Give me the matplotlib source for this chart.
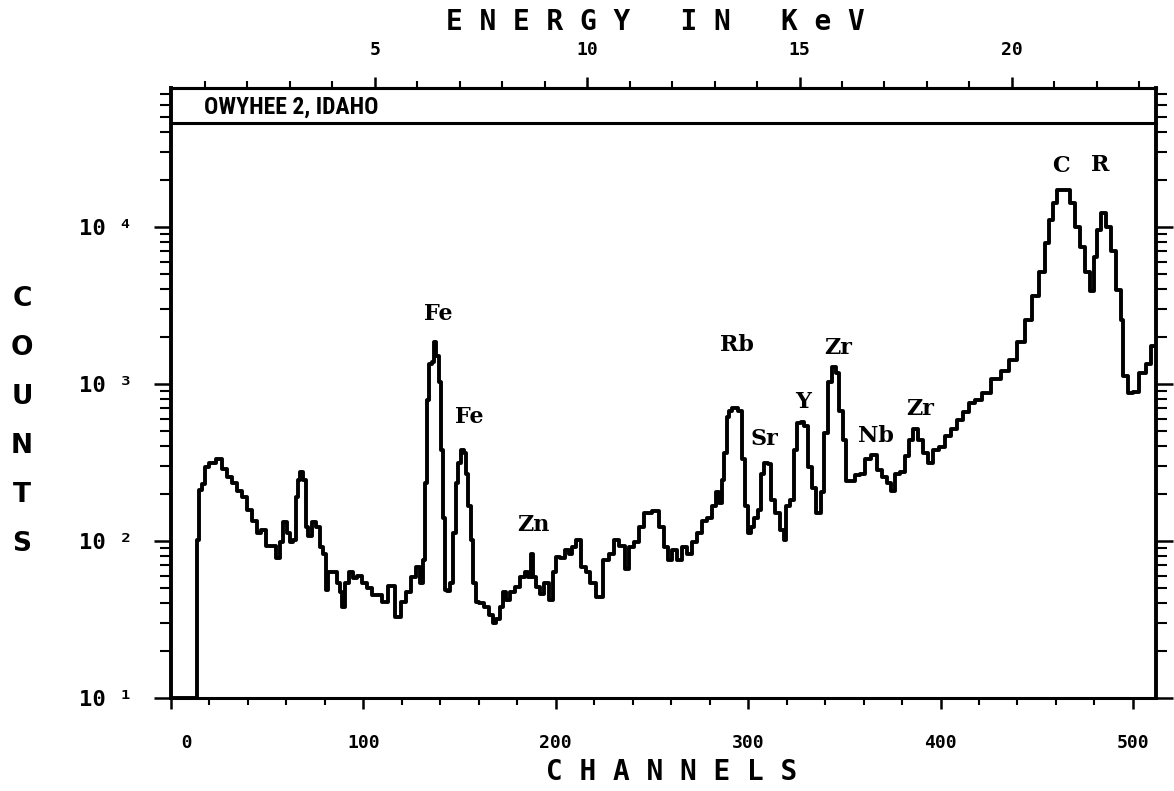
import numpy as np
import matplotlib.pyplot as plt
from matplotlib.ticker import FixedLocator, MultipleLocator, LogLocator, NullFormatter

# spectrum: channel number and counts
channel = [0.0, 13.0, 13.8, 15.0, 16.8, 18.5, 21.1, 25.4, 28.0, 30.6, 33.2, 35.8, 38.4, 41.0,
           43.6, 45.3, 47.9, 50.5, 53.1, 55.7, 57.5, 59.2, 60.9, 62.7, 64.4, 65.2, 66.6, 67.8,
           69.6, 70.5, 72.2, 73.9, 76.5, 78.3, 80.0, 80.8, 82.6, 85.2, 86.9, 88.6, 89.5, 91.2,
           93.8, 95.5, 98.1, 100.7, 103.3, 105.9, 108.5,
           111.1, 114.6, 118.0, 120.6, 123.2, 125.8, 128.4, 130.2, 131.4, 132.4, 133.6, 134.8,
           136.2, 137.4, 138.5, 139.7, 140.7, 141.7, 142.8, 144.2, 145.7, 147.5, 148.7, 150.1,
           151.8, 153.0, 154.0, 155.2, 156.6, 157.8, 159.0, 161.3, 163.9, 166.5, 168.2, 169.9,
           171.7, 173.4, 175.2, 177.7, 180.3, 182.9, 184.7, 186.4, 187.8, 189.0, 190.7, 192.5,
           195.1, 197.7, 199.4, 201.1, 203.7, 206.3,
           207.2, 209.5, 211.5, 215.0, 216.7, 219.3, 222.7, 226.2, 228.8, 231.4, 234.8, 237.4,
           239.2, 241.8, 244.4, 247.8, 252.2, 254.8, 257.4, 259.1, 261.7, 264.3, 266.9, 269.5,
           272.1, 274.7, 277.3, 279.9, 282.4, 284.2, 285.9, 287.1, 288.2, 289.4, 290.5, 293.0,
           296.3, 297.5, 298.9, 300.6, 302.0, 304.1, 305.8, 307.6, 309.3, 311.0,
           312.7, 315.3, 317.9, 319.3, 320.5, 323.1, 324.9, 326.2, 328.3, 330.1, 331.8, 334.4,
           336.6, 338.7, 340.4, 342.2, 344.8, 346.5, 348.2, 349.9, 351.7, 354.3, 356.9, 359.5,
           362.1, 365.5, 368.1, 370.7, 373.3, 375.4, 377.6, 380.2, 382.8, 384.6, 387.2, 389.8,
           392.4, 394.9, 397.6, 401.0, 403.6, 407.1, 410.5, 413.1, 416.6, 419.1,
           423.5, 428.7, 433.9, 437.3, 441.7, 446.0, 449.5, 452.9, 455.5, 457.3, 459.9, 461.6,
           465.9, 468.5, 471.1, 473.7, 476.3, 478.9, 480.7, 482.3, 484.9, 487.5, 490.1, 492.7,
           494.4, 495.7, 498.8, 501.4, 504.8, 508.3, 510.4]
counts = [10, 10, 101, 211, 229, 295, 316, 331, 288, 257, 234, 209, 191, 158,
          135, 112, 117, 93, 93, 78, 98, 132, 112, 98, 102, 191, 245, 275,
          245, 123, 107, 132, 123, 91, 83, 49, 63, 63, 54, 47, 38, 54,
          63, 58, 60, 54, 50, 45, 45,
          41, 52, 33, 41, 47, 59, 68, 54, 76, 234, 794, 1349,
          1380, 1862, 1514, 1023, 380, 141, 49, 48, 54, 112, 234, 316,
          380, 363, 269, 166, 102, 54, 41, 40, 38, 34, 30, 32,
          38, 47, 42, 47, 51, 59, 63, 59, 83, 59, 51, 46,
          54, 42, 63, 79, 78, 87,
          83, 91, 102, 68, 63, 54, 44, 76, 83, 102, 93, 66,
          91, 98, 123, 151, 155, 123, 91, 76, 87, 76, 91, 83,
          98, 112, 135, 141, 166, 204, 174, 245, 363, 617, 676, 708,
          676, 331, 166, 112, 123, 141, 158, 269, 316, 309,
          182, 151, 117, 102, 166, 182, 380, 562, 575, 537, 295, 219,
          151, 204, 490, 1023, 1288, 1175, 676, 437, 240, 240, 263, 269,
          331, 355, 282, 257, 234, 209, 269, 275, 347, 437, 513, 437,
          363, 316, 380, 398, 468, 513, 589, 661, 759, 794,
          871, 1072, 1202, 1413, 1862, 2570, 3631, 5129, 7943, 11092, 14125, 17219,
          17219, 14125, 10000, 7499, 5129, 3890, 6457, 9550, 12303, 10000, 7079, 3981,
          2570, 1122, 871, 891, 1175, 1349, 1738]

peak_names = ['Fe', 'Fe', 'Zn', 'Rb', 'Sr', 'Y', 'Zr', 'Nb', 'Zr', 'C', 'R']
peak_channel = [139, 155, 188.5, 294, 308.5, 328.5, 347, 366.5, 389.5, 462.5, 483]
peak_counts = [2790, 617, 126, 1770, 447, 767, 1694, 467, 692, 24500, 24800]

x_ticks = [0, 100, 200, 300, 400, 500]
x_labels = ['   0', '100', '200', '300', '400', '500']
kev_ticks = [5, 10, 15, 20]
y_ticks = [10, 100, 1000, 10000]
y_labels = ['10 \u00b9', '10 \u00b2', '10 \u00b3', '10 \u2074']

KEV0 = 0.2
KEV_PER_CH = 0.0453


def ch2kev(c):
    return KEV0 + np.asarray(c) * KEV_PER_CH


def kev2ch(e):
    return (np.asarray(e) - KEV0) / KEV_PER_CH


W, H = 1174, 791
fig = plt.figure(figsize=(W / 100, H / 100), dpi=100)
ax = fig.add_axes([171 / W, (H - 698) / H, (1156 - 171) / W, (698 - 88) / H])

ax.plot(channel, counts, drawstyle='steps-mid', color='black', lw=2.8)
ax.set_yscale('log')
ax.set_xlim(0, 512)
ax.set_ylim(10, 10 ** 4.885)

for s in ax.spines.values():
    s.set_linewidth(2.2)
ax.spines['left'].set_linewidth(2.8)
ax.spines['right'].set_linewidth(2.8)

tick_font = dict(family='DejaVu Sans Mono', weight='bold', size=13)

ax.xaxis.set_major_locator(FixedLocator(x_ticks))
ax.xaxis.set_minor_locator(MultipleLocator(20))
ax.set_xticklabels(x_labels, fontdict=tick_font)

ax.yaxis.set_major_locator(FixedLocator(y_ticks))
ax.yaxis.set_minor_locator(LogLocator(base=10, subs=np.arange(2, 10)))
ax.yaxis.set_minor_formatter(NullFormatter())
ax.set_yticklabels(y_labels, fontdict=dict(tick_font, size=16))

ax.tick_params(axis='x', which='major', direction='out', length=8, width=1.8, pad=18)
ax.tick_params(axis='x', which='minor', direction='out', length=5, width=1.5)
ax.tick_params(axis='y', which='major', direction='out', length=12, width=1.8, pad=16,
               right=True)
ax.tick_params(axis='y', which='minor', direction='out', length=8, width=1.5, right=True)

secax = ax.secondary_xaxis('top', functions=(ch2kev, kev2ch))
secax.xaxis.set_major_locator(FixedLocator(kev_ticks))
secax.xaxis.set_minor_locator(MultipleLocator(1))
secax.set_xticklabels([str(t) for t in kev_ticks], fontdict=tick_font)
secax.tick_params(which='major', direction='out', length=8, width=1.8, pad=13)
secax.tick_params(which='minor', direction='out', length=5, width=1.5)
secax.spines['top'].set_linewidth(2.2)

# title box inside the frame
ax.plot([0, 1], [0.943, 0.943], transform=ax.transAxes, color='black', lw=2.2,
        clip_on=False)
ax.text(0.033, 0.968, 'OWYHEE 2, IDAHO', transform=ax.transAxes, ha='left', va='center',
        family=['Liberation Sans Narrow', 'Roboto Condensed', 'DejaVu Sans Condensed',
                'Roboto'],
        weight='bold', size=17)

for name, c, n in zip(peak_names, peak_channel, peak_counts):
    ax.text(c, n, name, ha='center', va='center', family='DejaVu Serif',
            weight='bold', size=16)

fig.text(655 / W, 1 - 22 / H, 'E N E R G Y   I N   K e V', ha='center', va='center',
         family='DejaVu Sans Mono', weight='bold', size=20)
fig.text(672 / W, 1 - 772 / H, 'C H A N N E L S', ha='center', va='center',
         family='DejaVu Sans Mono', weight='bold', size=20)
for i, letter in enumerate('COUNTS'):
    fig.text(22 / W, 1 - (299 + 49 * i) / H, letter, ha='center', va='center',
             family='DejaVu Sans', weight='bold', size=19)

fig.savefig('out.png', dpi=100)
